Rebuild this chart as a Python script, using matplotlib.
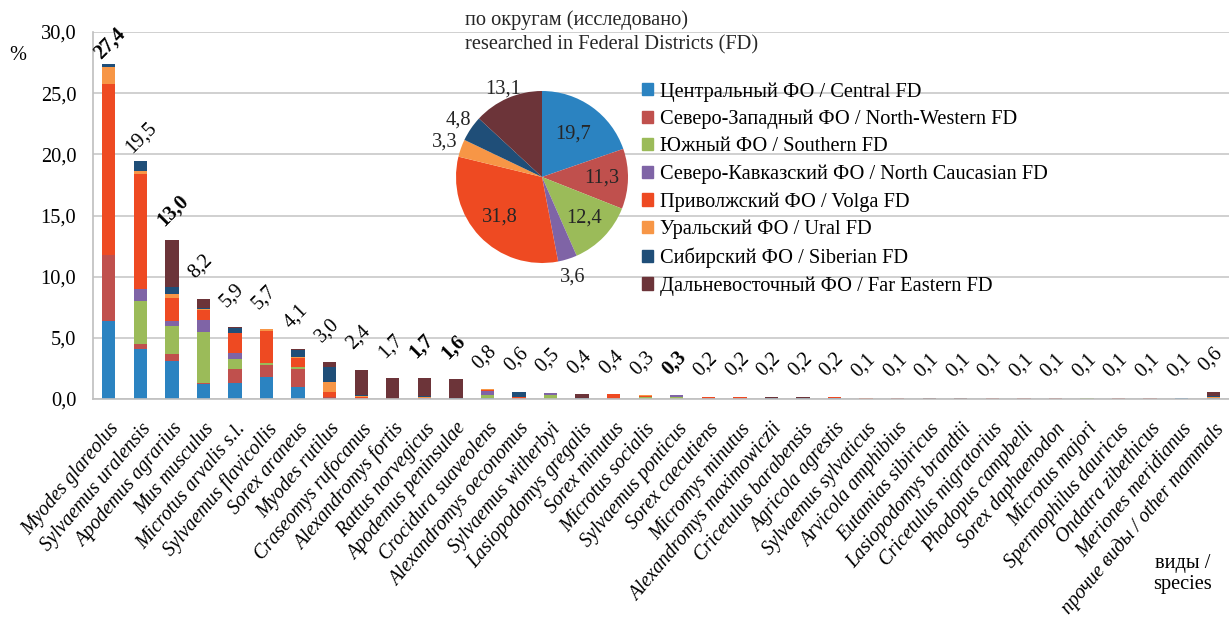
import numpy as np
import matplotlib
matplotlib.use("Agg")
import matplotlib.pyplot as plt
from matplotlib.patches import Patch

plt.rcParams['font.family'] = ['Liberation Serif', 'DejaVu Serif']

species = ["Myodes glareolus", "Sylvaemus uralensis", "Apodemus agrarius", "Mus musculus",
           "Microtus arvalis s.l.", "Sylvaemus flavicollis", "Sorex araneus", "Myodes rutilus",
           "Craseomys rufocanus", "Alexandromys fortis", "Rattus norvegicus", "Apodemus peninsulae",
           "Crocidura suaveolens", "Alexandromys oeconomus", "Sylvaemus witherbyi",
           "Lasiopodomys gregalis", "Sorex minutus", "Microtus socialis", "Sylvaemus ponticus",
           "Sorex caecutiens", "Micromys minutus", "Alexandromys maximowiczii",
           "Cricetulus barabensis", "Agricola agrestis", "Sylvaemus sylvaticus",
           "Arvicola amphibius", "Eutamias sibiricus", "Lasiopodomys brandtii",
           "Cricetulus migratorius", "Phodopus campbelli", "Sorex daphaenodon", "Microtus majori",
           "Spermophilus dauricus", "Ondatra zibethicus", "Meriones meridianus",
           "прочие виды / other mammals"]

totals = [27.4, 19.5, 13.0, 8.2, 5.9, 5.7, 4.1, 3.0, 2.4, 1.7, 1.7, 1.6, 0.8, 0.6, 0.5, 0.4,
          0.4, 0.3, 0.3, 0.2, 0.2, 0.2, 0.2, 0.2, 0.1, 0.1, 0.1, 0.1, 0.1, 0.1, 0.1, 0.1,
          0.1, 0.1, 0.1, 0.6]
bold_labels = [0, 2, 10, 11, 18]

# share of each federal district in every bar, %
central = [6.38, 4.06, 3.11, 1.25, 1.34, 1.77, 1.01, 0, 0, 0, 0, 0, 0.05, 0, 0, 0, 0, 0, 0,
           0, 0, 0, 0, 0.05, 0, 0, 0, 0, 0, 0, 0, 0, 0, 0, 0.1, 0.05]
north_west = [5.4, 0.41, 0.6, 0.08, 1.15, 1.04, 1.45, 0.15, 0.05, 0, 0, 0, 0, 0.1, 0, 0, 0.1,
              0, 0, 0.05, 0.1, 0, 0, 0, 0, 0.05, 0, 0, 0.1, 0.1, 0.1, 0, 0.1, 0.1, 0, 0]
southern = [0, 3.55, 2.26, 4.17, 0.76, 0.14, 0.16, 0, 0, 0, 0, 0, 0.3, 0, 0.3, 0, 0, 0.15,
            0.2, 0, 0, 0, 0, 0, 0, 0, 0, 0, 0, 0, 0, 0.1, 0, 0, 0, 0]
north_caucasian = [0, 0.98, 0.41, 0.98, 0.52, 0, 0, 0, 0, 0, 0.05, 0, 0.3, 0, 0.2, 0, 0, 0,
                   0.1, 0, 0, 0, 0, 0, 0, 0.05, 0, 0, 0, 0, 0, 0, 0, 0, 0, 0]
volga = [14.0, 9.38, 1.91, 0.79, 1.61, 2.62, 0.71, 0.45, 0.1, 0, 0.05, 0, 0.1, 0.1, 0, 0,
         0.3, 0.1, 0, 0.15, 0.1, 0, 0, 0.15, 0.1, 0, 0, 0, 0, 0, 0, 0, 0, 0, 0, 0.05]
ural = [1.36, 0.22, 0.3, 0.1, 0, 0.14, 0.14, 0.76, 0.08, 0, 0.1, 0, 0.05, 0, 0, 0, 0, 0.05,
        0, 0, 0, 0, 0, 0, 0, 0, 0, 0, 0, 0, 0, 0, 0, 0, 0, 0.05]
siberian = [0.25, 0.85, 0.57, 0.05, 0.41, 0, 0.55, 1.25, 0.1, 0, 0.05, 0.1, 0, 0.35, 0, 0.05,
            0, 0, 0, 0, 0, 0.05, 0.1, 0, 0, 0, 0, 0, 0, 0, 0, 0, 0, 0, 0, 0.1]
far_eastern = [0, 0, 3.85, 0.79, 0.08, 0, 0.08, 0.38, 2.07, 1.7, 1.45, 1.5, 0, 0.05, 0, 0.35,
               0, 0, 0, 0, 0, 0.15, 0.1, 0, 0, 0, 0.1, 0.1, 0, 0, 0, 0, 0, 0, 0, 0.35]

districts = ["Центральный ФО / Central FD", "Северо-Западный ФО / North-Western FD",
             "Южный ФО / Southern FD", "Северо-Кавказский ФО / North Caucasian FD",
             "Приволжский ФО / Volga FD", "Уральский ФО / Ural FD",
             "Сибирский ФО / Siberian FD", "Дальневосточный ФО / Far Eastern FD"]
pie_share = [19.7, 11.3, 12.4, 3.6, 31.8, 3.3, 4.8, 13.1]

colors = ['#2B83C1', '#C0504D', '#9BBB59', '#7F64A6', '#EE4A22', '#F79646', '#1F4E78', '#6C3439']
label_r = [0.62, 0.7, 0.68, 1.22, 0.68, 1.2, 1.18, 1.12]   # radial position of pie labels
label_gap = {0: 4, 1: 8, 2: 13}                              # px above bar top, default 20
FS = 14.7

W, H = 1229, 621
fig = plt.figure(figsize=(W / 100, H / 100), dpi=100)
ax = fig.add_axes([93 / W, 1 - 399 / H, 1 - 93 / W, 367 / H])

x = np.arange(len(species))
bottom = np.zeros(len(species))
for vals, c in zip([central, north_west, southern, north_caucasian, volga, ural, siberian,
                    far_eastern], colors):
    ax.bar(x, vals, 0.42, bottom=bottom, color=c, linewidth=0)
    bottom += np.array(vals)

for i, (xi, top, t) in enumerate(zip(x, bottom, totals)):
    gap = label_gap.get(i, 20)
    ax.annotate(f"{t:.1f}".replace('.', ','), (xi, top), xytext=(-6, gap * 0.72),
                textcoords='offset points', rotation=45, rotation_mode='anchor',
                ha='left', va='baseline', fontsize=FS,
                fontweight='bold' if i in bold_labels else 'normal')

ax.set_xlim(-0.5, len(species) - 0.5)
ax.set_ylim(0, 30)
ax.set_yticks(np.arange(0, 31, 5))
ax.set_yticklabels([f"{v:.1f}".replace('.', ',') for v in np.arange(0, 31, 5)], fontsize=FS)
ax.set_xticks(x)
ax.set_xticklabels(species, rotation=50, ha='right', va='top', rotation_mode='anchor',
                   fontsize=14.2, style='italic')
ax.tick_params(axis='both', length=0)
ax.tick_params(axis='y', pad=12)
ax.tick_params(axis='x', pad=15)
ax.yaxis.grid(True, color='#C8C8C8', linewidth=1.2)
ax.set_axisbelow(True)
for s in ['top', 'right']:
    ax.spines[s].set_visible(False)
for s in ['left', 'bottom']:
    ax.spines[s].set_color('#BFBFBF')
    ax.spines[s].set_linewidth(1.2)

fig.text(18 / W, 1 - 55 / H, '%', ha='center', va='center', fontsize=FS)
fig.text(1183 / W, 1 - 574 / H, 'виды /\nspecies', ha='center', va='center', fontsize=FS,
         linespacing=1.15)

# pie of federal districts
pax = fig.add_axes([456 / W, 1 - 263 / H, 172 / W, 172 / H])
wedges, _ = pax.pie(pie_share, colors=colors, startangle=90, counterclock=False, radius=1,
                    wedgeprops=dict(linewidth=0))
pax.set_xlim(-1, 1)
pax.set_ylim(-1, 1)
for w, v, r in zip(wedges, pie_share, label_r):
    a = np.deg2rad((w.theta1 + w.theta2) / 2)
    pax.text(r * np.cos(a), r * np.sin(a), f"{v:.1f}".replace('.', ','), ha='center',
             va='center', fontsize=FS, color='#262626')

fig.text(465 / W, 1 - 20 / H, 'по округам (исследовано)', va='center', fontsize=FS,
         color='#262626')
fig.text(465 / W, 1 - 45 / H, 'researched in Federal Districts (FD)', va='center',
         fontsize=FS, color='#262626')

handles = [Patch(color=c) for c in colors]
fig.legend(handles, districts, loc='upper left', bbox_to_anchor=(642 / W, 1 - 82 / H),
           frameon=False, fontsize=FS, handlelength=0.55, handleheight=0.55,
           handletextpad=0.35, labelspacing=0.40, borderaxespad=0, borderpad=0)

fig.savefig('out.png', dpi=100)
